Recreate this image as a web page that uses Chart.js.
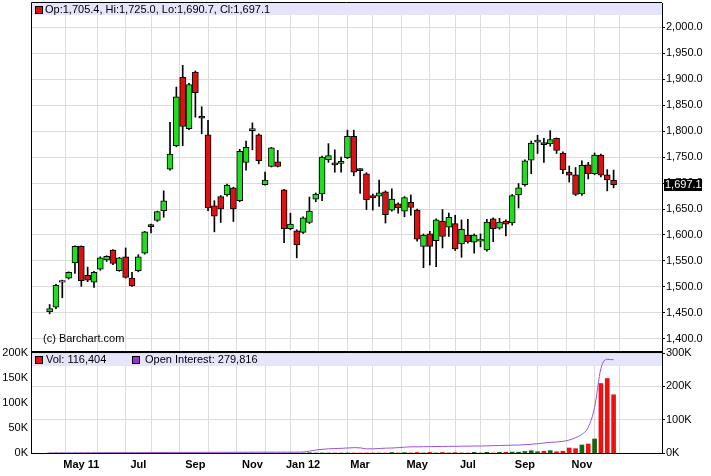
<!DOCTYPE html>
<html>
<head>
<meta charset="utf-8">
<script src="https://cdn.jsdelivr.net/npm/chart.js@4.4.1/dist/chart.umd.min.js"></script>
<style>
  html, body { margin: 0; padding: 0; background: #fff; }
  #wrap { position: relative; width: 711px; height: 476px; overflow: hidden; }
  .box { position: absolute; left: 0; width: 711px; }
</style>
</head>
<body>
<div id="wrap">
  <div class="box" style="top:0;height:353px"><canvas id="priceChart"></canvas></div>
  <div class="box" style="top:345px;height:131px"><canvas id="volChart"></canvas></div>
</div>
<script>
// weekly bars, index 0 = first week on the chart
const opens = [1452,1461,1509,1517,1546,1578,1522,1509,1534,1552,
  1571,1531,1558,1517,1531,1565,1620,1628,1647,1727,
  1772,1904,1805,1914,1829,1793,1656,1674,1677,1691,
  1666,1740,1801,1793,1697,1732,1741,1687,1612,1608,
  1605,1624,1669,1679,1745,1739,1738,1749,1790,1728,
  1718,1676,1675,1683,1648,1660,1646,1663,1648,1578,
  1602,1589,1627,1615,1622,1583,1600,1586,1588,1571,
  1631,1613,1627,1623,1677,1697,1744,1779,1778,1776,
  1786,1758,1721,1716,1679,1735,1718,1754,1716,1705.4];
const highs = [1466,1505,1513,1529,1579,1579,1538,1530,1558,1560,
  1572,1557,1575,1528,1562,1607,1621,1646,1685,1817,
  1885,1927,1892,1916,1847,1821,1666,1676,1698,1692,
  1765,1781,1816,1795,1721,1769,1763,1688,1642,1610,
  1635,1673,1681,1752,1776,1764,1750,1802,1802,1728,
  1720,1679,1706,1685,1689,1662,1674,1677,1650,1602,
  1607,1631,1649,1642,1638,1629,1630,1602,1602,1630,
  1633,1632,1629,1678,1699,1745,1781,1792,1786,1801,
  1787,1760,1733,1730,1743,1740,1758,1756,1726,1725.0];
const lows = [1448,1458,1479,1515,1526,1501,1510,1499,1532,1549,
  1543,1530,1517,1501,1529,1563,1604,1626,1634,1725,
  1770,1772,1803,1827,1795,1647,1606,1624,1675,1626,
  1664,1725,1764,1737,1696,1731,1731,1585,1610,1556,
  1603,1622,1664,1666,1740,1721,1721,1747,1714,1680,
  1649,1648,1655,1623,1646,1642,1635,1638,1588,1537,
  1542,1539,1575,1597,1570,1557,1584,1565,1577,1569,
  1587,1611,1598,1619,1652,1694,1718,1757,1740,1771,
  1757,1718,1702,1676,1676,1708,1716,1712,1685,1690.7];
const closes = [1458,1503,1512,1528,1578,1512,1513,1528,1556,1559,
  1545,1556,1518,1502,1558,1606,1616,1645,1666,1756,
  1866,1809,1890,1874,1825,1652,1636,1650,1696,1650,
  1761,1769,1805,1743,1706,1768,1732,1612,1621,1581,
  1633,1646,1679,1750,1753,1735,1742,1790,1721,1724,
  1668,1672,1681,1639,1669,1652,1672,1653,1592,1600,
  1578,1629,1597,1634,1573,1611,1587,1600,1592,1625,
  1612,1625,1621,1676,1691,1743,1777,1783,1774,1784,
  1763,1726,1715,1678,1734,1718,1754,1715,1706,1697.1];

const volume = [0,0,0,0,0,0,0,0,0,0,
  0,0,0,0,0,0,0,0,0,0,
  0,0,0,0,0,0,0,0,0,0,
  0,0,0,0,0,0,0,0,0,0,
  0,500,0,0,0,0,0,0,0,0,
  0,0,0,0,900,0,700,0,1000,0,
  1100,0,1000,0,700,0,0,1200,0,1300,
  0,1400,1500,1800,1600,3000,4500,2500,3500,4700,
  2500,3500,10000,8700,16000,18000,28000,139000,149000,116404];
const openInterest = [0,0,0,0,0,300,400,500,600,700,
  800,900,900,1000,1100,1200,1300,1400,1500,1600,
  1700,1800,1800,1900,2000,2000,2100,2100,2200,2200,
  2300,2300,2300,2400,2400,2400,2500,2500,2600,2600,
  3000,5500,9000,11000,12500,13500,14000,15000,16000,15500,
  12500,12500,13500,14500,15000,16000,17500,18500,18500,19000,
  19000,19500,19500,20000,20000,20500,20500,21000,21000,21500,
  22000,22500,23000,23500,24000,25000,26000,28000,30000,32000,
  33000,35000,39000,46000,56000,77000,137000,254000,281000,279816];

// month starts (bar index) and their labels
const monthTicks = [5,10,14,18,23,27,32,36,40,45,49,53,58,62,66,70,75,79,84,88];
const monthLabels = ['May 11','','Jul','','Sep','','Nov','','Jan 12','','Mar','','May','','Jul','','Sep','','Nov',''];
const priceTicks = [1400,1450,1500,1550,1600,1650,1700,1750,1800,1850,1900,1950,2000];
const volTicks = [0,50000,100000,150000,200000];
const oiTicks = [0,100000,200000,300000];

Chart.defaults.font.family = 'Liberation Sans';
Chart.defaults.font.size = 11;
Chart.defaults.color = '#000';

const UP = '#22dd22', DOWN = '#dd1111';
const xMin = -0.45, xMax = 94.15;

function fmt(v) {
  return v.toLocaleString('en-US', { minimumFractionDigits: 1, maximumFractionDigits: 1 });
}

function setTicks(list) {
  return s => { s.ticks = list.map(v => ({ value: v })); };
}

// fixed axis size, no extra room for half labels
function fitTo(w, h) {
  return s => {
    if (w !== null) s.width = w;
    if (h !== null) s.height = h;
    s.paddingTop = 0;
    s.paddingBottom = 0;
    s.paddingLeft = 0;
    s.paddingRight = 0;
  };
}

// band, legend text, frame and last price box for the price panel
const pricePanel = {
  id: 'pricePanel',
  beforeDatasetsDraw(chart) {
    const c = chart.ctx, a = chart.chartArea;
    c.save();
    c.fillStyle = '#e4e4fa';
    c.fillRect(a.left, a.top, a.right - a.left, 12);
    c.fillStyle = '#dd1111';
    c.fillRect(36, 7, 6, 6);
    c.strokeStyle = '#000';
    c.lineWidth = 1;
    c.strokeRect(35.5, 6.5, 7, 7);
    c.fillStyle = '#000';
    c.font = '11px Liberation Sans';
    c.textBaseline = 'middle';
    const n = closes.length - 1;
    c.fillText('Op:' + fmt(opens[n]) + ', Hi:' + fmt(highs[n]) + ', Lo:' + fmt(lows[n]) + ', Cl:' + fmt(closes[n]), 45, 10);
    c.fillText('(c) Barchart.com', 43, 339);
    c.restore();
  },
  afterDraw(chart) {
    const c = chart.ctx, a = chart.chartArea;
    c.save();
    c.strokeStyle = '#000';
    c.lineWidth = 1;
    c.beginPath();
    c.moveTo(a.left + 0.5, a.bottom);
    c.lineTo(a.left + 0.5, a.top - 0.5);
    c.lineTo(a.right, a.top - 0.5);
    c.stroke();
    c.fillStyle = '#000';
    c.fillRect(a.left, 351, a.right - a.left + 1, 2);
    const last = closes[closes.length - 1];
    const y = chart.scales.y.getPixelForValue(last);
    c.fillRect(664, Math.round(y) - 6, 38, 12);
    c.fillStyle = '#fff';
    c.font = '11px Liberation Sans';
    c.textBaseline = 'middle';
    c.fillText(fmt(last), 665, Math.round(y));
    c.restore();
  }
};

const volPanel = {
  id: 'volPanel',
  beforeDatasetsDraw(chart) {
    const c = chart.ctx, a = chart.chartArea;
    c.save();
    c.fillStyle = '#e4e4fa';
    c.fillRect(a.left + 1, a.top + 1, a.right - a.left - 1, 12);
    c.strokeStyle = '#000';
    c.lineWidth = 1;
    c.fillStyle = '#ee1111';
    c.fillRect(36, a.top + 4, 6, 6);
    c.strokeRect(35.5, a.top + 3.5, 7, 7);
    c.fillStyle = '#9933cc';
    c.fillRect(133, a.top + 4, 6, 6);
    c.strokeRect(132.5, a.top + 3.5, 7, 7);
    c.fillStyle = '#000';
    c.font = '11px Liberation Sans';
    c.textBaseline = 'middle';
    const n = volume.length - 1;
    c.fillText('Vol: ' + volume[n].toLocaleString('en-US'), 46, a.top + 7);
    c.fillText('Open Interest: ' + openInterest[n].toLocaleString('en-US'), 145, a.top + 7);
    c.restore();
  }
};

const ctxPrice = document.getElementById('priceChart');
const priceChart = new Chart(ctxPrice, {
  type: 'bar',
  data: {
    datasets: [{
      label: 'body',
      data: opens.map((o, i) => ({ x: i, y: [o, closes[i]] })),
      backgroundColor: opens.map((o, i) => closes[i] >= o ? UP : DOWN),
      borderColor: '#000',
      borderWidth: 1,
      borderSkipped: false,
      barThickness: 6,
      grouped: false,
      order: 1
    }, {
      label: 'wick',
      data: lows.map((l, i) => ({ x: i, y: [l, highs[i]] })),
      backgroundColor: '#000',
      borderWidth: 0,
      barThickness: 1,
      grouped: false,
      order: 2
    }]
  },
  options: {
    responsive: true,
    maintainAspectRatio: false,
    animation: false,
    devicePixelRatio: 1,
    layout: { padding: { left: 31, top: 3, right: 0, bottom: 0 } },
    plugins: { legend: { display: false }, tooltip: { enabled: false } },
    scales: {
      x: {
        type: 'linear',
        min: xMin,
        max: xMax,
        afterBuildTicks: setTicks(monthTicks),
        afterFit: fitTo(null, 1),
        grid: { color: '#dcdcdc', drawTicks: false },
        border: { display: false },
        ticks: { display: false }
      },
      y: {
        position: 'right',
        min: 1374.5,
        max: 2047,
        afterBuildTicks: setTicks(priceTicks),
        afterFit: fitTo(49, null),
        grid: { color: '#dcdcdc', tickColor: '#000', tickLength: 3 },
        border: { color: '#000' },
        ticks: { color: '#000', padding: 1, callback: v => fmt(v) }
      }
    }
  },
  plugins: [pricePanel]
});

const ctxVol = document.getElementById('volChart');
const volChart = new Chart(ctxVol, {
  data: {
    datasets: [{
      type: 'line',
      label: 'Open Interest',
      yAxisID: 'y2',
      data: openInterest.map((v, i) => ({ x: i, y: v })),
      borderColor: '#a050e0',
      borderWidth: 1,
      pointRadius: 0,
      cubicInterpolationMode: 'monotone',
      order: 1
    }, {
      type: 'bar',
      label: 'Vol',
      yAxisID: 'y',
      data: volume.map((v, i) => ({ x: i, y: v })),
      backgroundColor: opens.map((o, i) => closes[i] >= o ? '#116611' : '#ee1111'),
      barThickness: 4,
      order: 2
    }]
  },
  options: {
    responsive: true,
    maintainAspectRatio: false,
    animation: false,
    devicePixelRatio: 1,
    layout: { padding: { left: 0, top: 8, right: 0, bottom: 0 } },
    plugins: { legend: { display: false }, tooltip: { enabled: false } },
    scales: {
      x: {
        type: 'linear',
        min: xMin,
        max: xMax,
        afterBuildTicks: setTicks(monthTicks),
        afterFit: fitTo(null, 23),
        grid: { color: '#dcdcdc', drawTicks: false },
        border: { color: '#000' },
        ticks: {
          autoSkip: false,
          maxRotation: 0,
          padding: 5,
          color: '#000',
          font: { weight: 'bold' },
          callback: (v, i) => monthLabels[i]
        }
      },
      y: {
        position: 'left',
        min: 0,
        max: 200000,
        afterBuildTicks: setTicks(volTicks),
        afterFit: fitTo(31, null),
        grid: { display: false, drawTicks: false },
        border: { color: '#000' },
        ticks: { color: '#000', padding: 3, callback: v => (v / 1000) + 'K' }
      },
      y2: {
        position: 'right',
        min: 0,
        max: 300000,
        afterBuildTicks: setTicks(oiTicks),
        afterFit: fitTo(49, null),
        grid: { color: '#dcdcdc', tickColor: '#000', tickLength: 3 },
        border: { color: '#000' },
        ticks: { color: '#000', padding: 1, callback: v => (v / 1000) + 'K' }
      }
    }
  },
  plugins: [volPanel]
});
</script>
</body>
</html>
